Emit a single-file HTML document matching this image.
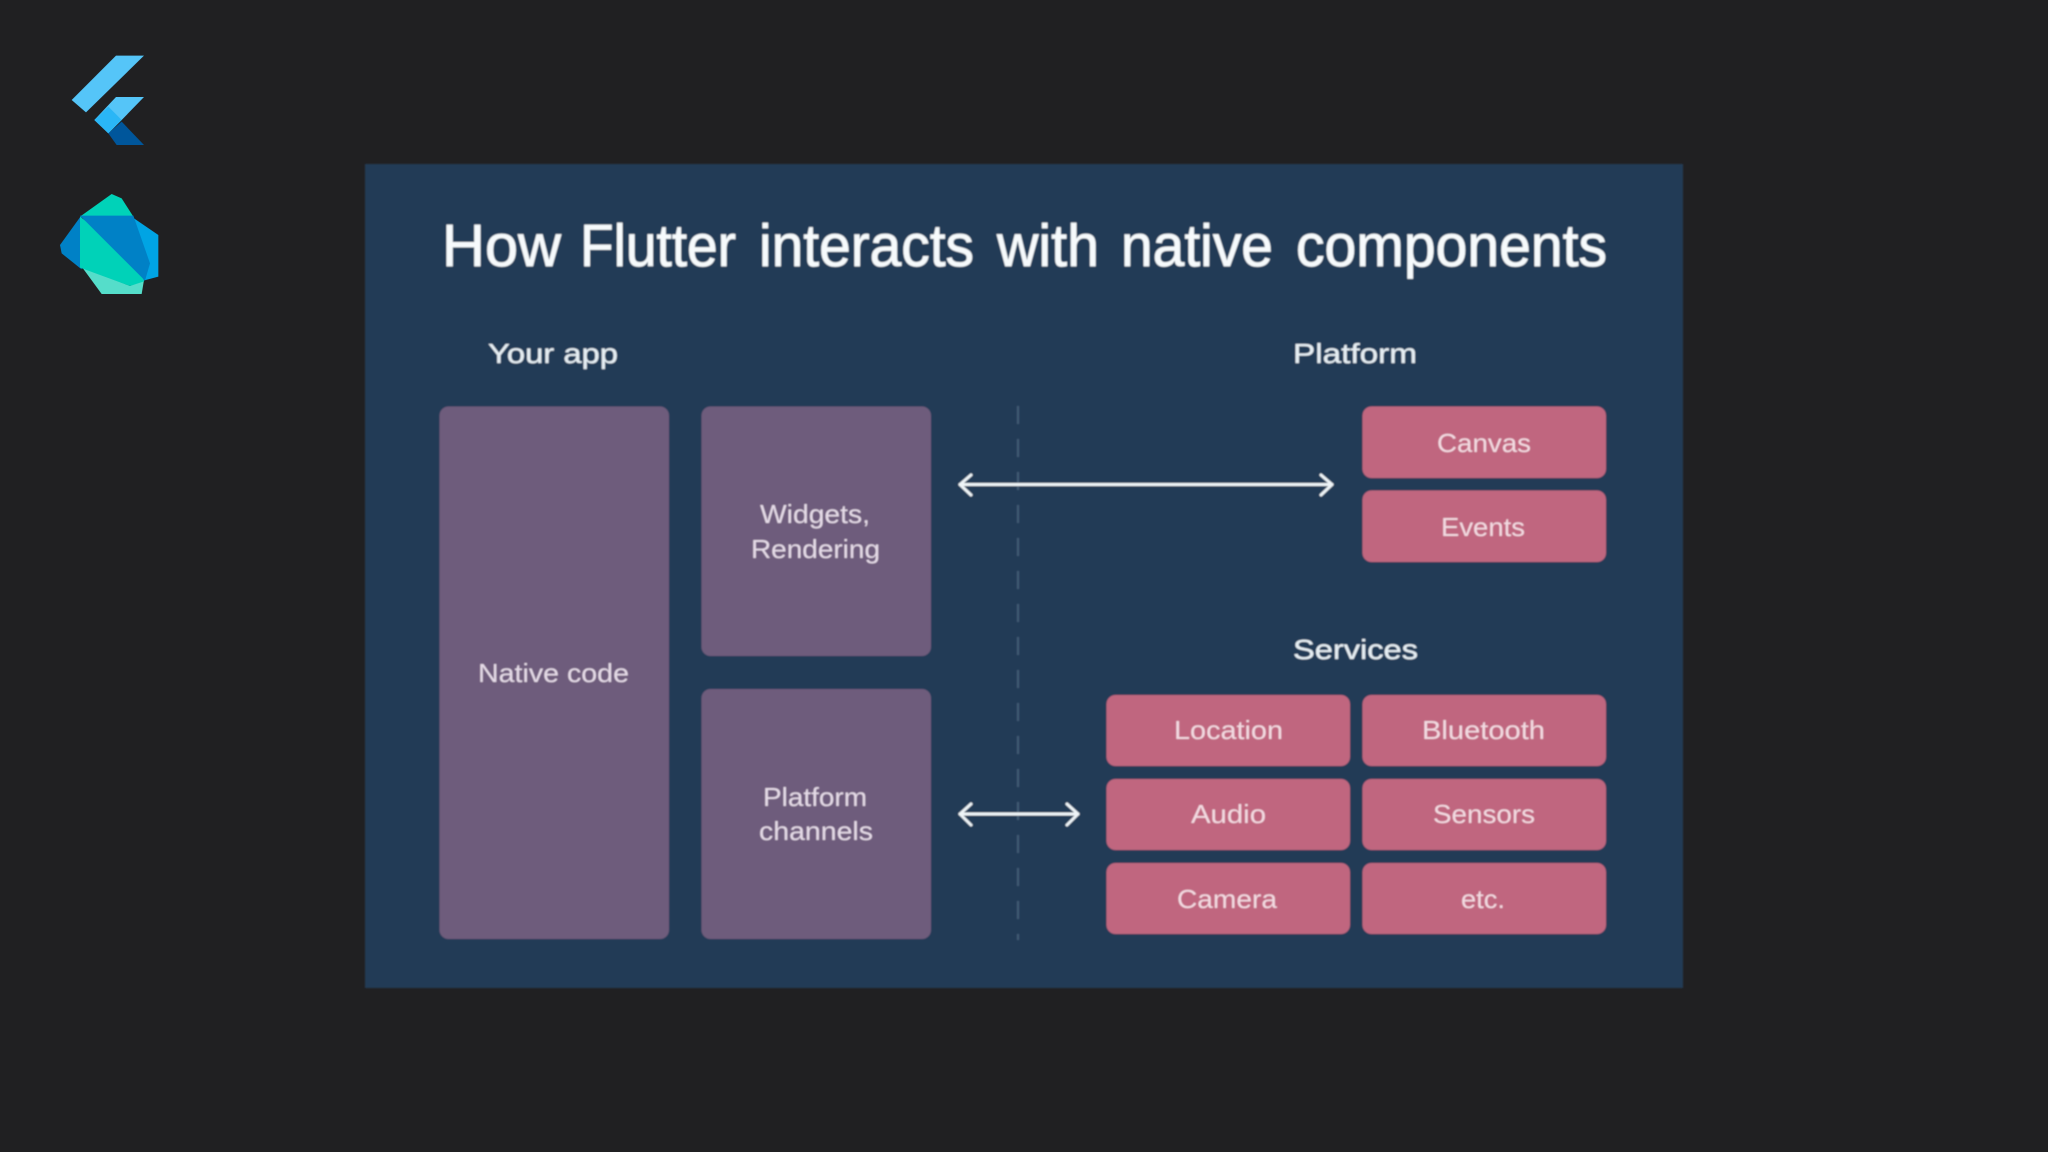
<!DOCTYPE html>
<html lang="en">
<head>
<meta charset="utf-8">
<title>How Flutter interacts with native components</title>
<style>
html,body{margin:0;padding:0;background:#202022;width:2048px;height:1152px;overflow:hidden}
svg{display:block}
text{font-family:"Liberation Sans",sans-serif}
.t{font-size:59px;fill:#f6fafc;stroke:#f6fafc;stroke-width:0.7px}
.h{font-size:28px;fill:#e6eef3;stroke:#e6eef3;stroke-width:0.3px}
.p{font-size:26px;fill:#e6dce8}
.k{font-size:26px;fill:#f3dbe2}
</style>
</head>
<body>
<svg xmlns="http://www.w3.org/2000/svg" width="2048" height="1152" viewBox="0 0 2048 1152">
<defs>
<filter id="b" x="-5%" y="-5%" width="110%" height="110%"><feGaussianBlur stdDeviation="0.7"/></filter>
</defs>
<rect width="2048" height="1152" fill="#202022"/>

<!-- logos -->
<g transform="translate(40,40) scale(0.33333)" filter="url(#b)">
  <polygon points="228,47 312,47 138,217 95,180" fill="#54c5f8"/>
  <polygon points="228,171 312,171 245,240 205,280 163,240" fill="#54c5f8"/>
  <polygon points="163,240 205,280 245,240 205,200" fill="#29b6f6"/>
  <polygon points="205,280 245,245 312,315 230,315" fill="#01579b"/>

  <polygon points="120,530 215,462 245,475 280,530" fill="#00d2b8"/>
  <polygon points="125,680 185,762 305,762 312,720 270,738" fill="#55ddca"/>
  <polygon points="125,525 60,615 65,640 125,688" fill="#0081c6"/>
  <polygon points="270,527 355,585 355,710 310,722 300,600" fill="#00a4e4"/>
  <polygon points="120,530 120,683 270,738 312,724 300,690 200,590" fill="#00d2b8"/>
  <polygon points="120,527 280,527 330,670 315,722" fill="#0081c6"/>
</g>

<g filter="url(#b)">
  <rect x="365" y="164" width="1318" height="824" fill="#203a56"/>

  <text class="t" x="442" y="266" textLength="119" lengthAdjust="spacingAndGlyphs">How</text>
  <text class="t" x="580" y="266" textLength="156" lengthAdjust="spacingAndGlyphs">Flutter</text>
  <text class="t" x="759" y="266" textLength="215" lengthAdjust="spacingAndGlyphs">interacts</text>
  <text class="t" x="997" y="266" textLength="102" lengthAdjust="spacingAndGlyphs">with</text>
  <text class="t" x="1121" y="266" textLength="152" lengthAdjust="spacingAndGlyphs">native</text>
  <text class="t" x="1296" y="266" textLength="311" lengthAdjust="spacingAndGlyphs">components</text>

  <text class="h" x="488" y="363" textLength="130" lengthAdjust="spacingAndGlyphs">Your app</text>
  <text class="h" x="1293" y="363" textLength="124" lengthAdjust="spacingAndGlyphs">Platform</text>
  <text class="h" x="1293" y="659" textLength="125" lengthAdjust="spacingAndGlyphs">Services</text>

  <rect x="439.5" y="406.5" width="229.5" height="532.5" rx="9" fill="#6e5b7b"/>
  <rect x="701.5" y="406.5" width="229.5" height="249.5" rx="9" fill="#6e5b7b"/>
  <rect x="701.5" y="689" width="229.5" height="250" rx="9" fill="#6e5b7b"/>

  <text class="p" x="478" y="682" textLength="151" lengthAdjust="spacingAndGlyphs">Native code</text>
  <text class="p" x="760" y="523" textLength="110" lengthAdjust="spacingAndGlyphs">Widgets,</text>
  <text class="p" x="751" y="558" textLength="129" lengthAdjust="spacingAndGlyphs">Rendering</text>
  <text class="p" x="763" y="806" textLength="104" lengthAdjust="spacingAndGlyphs">Platform</text>
  <text class="p" x="759" y="840" textLength="114" lengthAdjust="spacingAndGlyphs">channels</text>

  <rect x="1362.5" y="406.5" width="243.5" height="71.5" rx="9" fill="#c0667f"/>
  <rect x="1362.5" y="490.5" width="243.5" height="71.5" rx="9" fill="#c0667f"/>
  <rect x="1106.5" y="695" width="243.5" height="71" rx="9" fill="#c0667f"/>
  <rect x="1362.5" y="695" width="243.5" height="71" rx="9" fill="#c0667f"/>
  <rect x="1106.5" y="779" width="243.5" height="71" rx="9" fill="#c0667f"/>
  <rect x="1362.5" y="779" width="243.5" height="71" rx="9" fill="#c0667f"/>
  <rect x="1106.5" y="863" width="243.5" height="71" rx="9" fill="#c0667f"/>
  <rect x="1362.5" y="863" width="243.5" height="71" rx="9" fill="#c0667f"/>

  <text class="k" x="1437" y="452" textLength="94" lengthAdjust="spacingAndGlyphs">Canvas</text>
  <text class="k" x="1441" y="536" textLength="84" lengthAdjust="spacingAndGlyphs">Events</text>
  <text class="k" x="1174" y="739" textLength="109" lengthAdjust="spacingAndGlyphs">Location</text>
  <text class="k" x="1422" y="739" textLength="123" lengthAdjust="spacingAndGlyphs">Bluetooth</text>
  <text class="k" x="1191" y="823" textLength="75" lengthAdjust="spacingAndGlyphs">Audio</text>
  <text class="k" x="1433" y="823" textLength="102" lengthAdjust="spacingAndGlyphs">Sensors</text>
  <text class="k" x="1177" y="908" textLength="100" lengthAdjust="spacingAndGlyphs">Camera</text>
  <text class="k" x="1461" y="908" textLength="44" lengthAdjust="spacingAndGlyphs">etc.</text>

  <line x1="1018" y1="406" x2="1018" y2="940" stroke="#435c74" stroke-width="2" stroke-dasharray="18 15"/>

  <g fill="none" stroke="#eef4f7" stroke-width="3" stroke-linecap="round" stroke-linejoin="round">
    <path d="M960 484.5H1332"/>
    <path d="M971 475L960 484.5L971 495"/>
    <path d="M1321 475L1332 484.5L1321 495"/>
    <path d="M960 814H1078"/>
    <path d="M971 804L960 814L971 825"/>
    <path d="M1067 804L1078 814L1067 825"/>
  </g>
</g>
</svg>
</body>
</html>
